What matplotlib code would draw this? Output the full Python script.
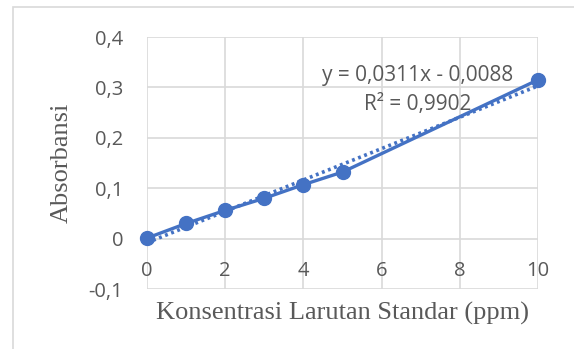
import matplotlib.pyplot as plt
from matplotlib.patches import Rectangle
import numpy as np

# data
konsentrasi = [0, 1, 2, 3, 4, 5, 10]
absorbansi = [0.001, 0.030, 0.056, 0.080, 0.107, 0.132, 0.315]
x_ticks = [0, 2, 4, 6, 8, 10]
y_ticks = [-0.1, 0, 0.1, 0.2, 0.3, 0.4]
y_tick_labels = ['-0,1', '0', '0,1', '0,2', '0,3', '0,4']
persamaan = 'y = 0,0311x - 0,0088'
r_kuadrat = 'R² = 0,9902'

blue = '#4472C4'
grid = '#d9d9d9'
txt = '#595959'

fig = plt.figure(figsize=(5.74, 3.49), dpi=100)
ax = fig.add_axes([147 / 574, 60 / 349, 391 / 574, 252 / 349])

# outer chart border
fig.add_artist(Rectangle((13 / 574, -0.2), 1.2, 1.2 - 7 / 349,
                         transform=fig.transFigure, fill=False,
                         edgecolor=grid, lw=1.2))

ax.set_xlim(0, 10)
ax.set_ylim(-0.1, 0.4)
ax.set_xticks(x_ticks)
ax.set_yticks(y_ticks)
ax.set_yticklabels(y_tick_labels)
ax.grid(True, color=grid, lw=1.2)
ax.set_axisbelow(True)
for s in ax.spines.values():
    s.set_visible(False)
ax.spines['bottom'].set_position(('data', 0))
ax.tick_params(axis='both', length=0, labelsize=14.5, labelcolor=txt)
ax.tick_params(axis='x', pad=16)
ax.tick_params(axis='y', pad=17)
for lab in ax.get_xticklabels() + ax.get_yticklabels():
    lab.set_family('Open Sans')

# trendline
k, c = np.polyfit(konsentrasi, absorbansi, 1)
xt = np.array([0, 10])
ax.plot(xt, k * xt + c, color=blue, lw=2.6, ls=(0, (0.8, 1.0)), zorder=2)

ax.plot(konsentrasi, absorbansi, color=blue, lw=2.4, marker='o',
        markersize=10, zorder=3, clip_on=False)

ax.text(6.92, 0.323, persamaan, ha='center', va='center', fontsize=15,
        color=txt, family='Open Sans')
ax.text(6.92, 0.267, r_kuadrat, ha='center', va='center', fontsize=15,
        color=txt, family='Open Sans')

ax.set_xlabel('Konsentrasi Larutan Standar (ppm)', family='Liberation Serif',
              fontsize=19, color=txt, labelpad=0)
ax.xaxis.set_label_coords(0.5, -0.05)
ax.set_ylabel('Absorbansi', family='Liberation Serif', fontsize=19, color=txt)
ax.yaxis.set_label_coords(-0.19, 0.5)

fig.savefig('out.png', dpi=100)
